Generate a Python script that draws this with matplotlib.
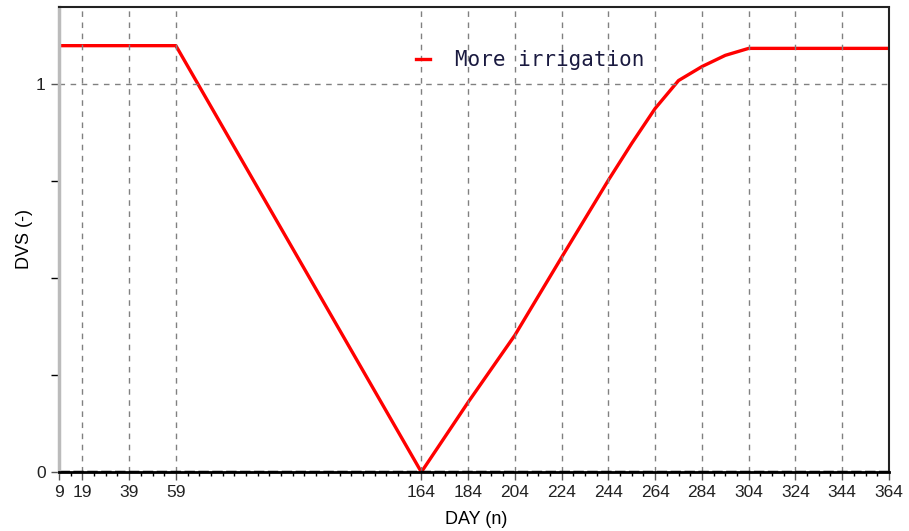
import matplotlib.pyplot as plt
from matplotlib.ticker import FixedLocator

# day of year vs DVS
day = [9, 59, 164, 184, 204, 224, 244, 254, 264, 274, 284, 294, 304, 364]
dvs = [1.1, 1.1, 0.0, 0.18, 0.353, 0.554, 0.753, 0.848, 0.938, 1.01, 1.046, 1.075, 1.093, 1.093]
xticks = [9, 19, 39, 59, 164, 184, 204, 224, 244, 264, 284, 304, 324, 344, 364]
yticks = [0, 1]

plt.rcParams['font.family'] = ['Liberation Sans', 'DejaVu Sans']

fig = plt.figure(figsize=(9.09, 5.31), dpi=100)
ax = fig.add_axes([0.0649, 0.111, 0.913, 0.876])

ax.plot(day, dvs, color='red', lw=2.4, label='More irrigation')

ax.set_xlim(9, 364)
ax.set_ylim(0, 1.2)
ax.set_xticks(xticks)
ax.set_xticklabels([str(t) for t in xticks])
ax.xaxis.set_minor_locator(FixedLocator([t for t in range(14, 364, 5) if t not in xticks]))
ax.set_yticks(yticks)
ax.yaxis.set_minor_locator(FixedLocator([0.25, 0.5, 0.75]))
ax.tick_params(axis='both', labelsize=12.5, colors='#555555', labelcolor='#222222')
ax.tick_params(axis='x', which='major', length=6, width=1)
ax.tick_params(axis='x', which='minor', length=3, width=1)
ax.tick_params(axis='y', which='both', length=6, width=1)

for x in xticks[1:-1]:
    ax.axvline(x, color='#808080', ls=(0, (4, 4)), lw=1)
ax.axhline(1, color='#808080', ls=(0, (4, 4)), lw=1)
ax.axhline(0, color='black', lw=2.5, ls=(0, (3, 1)))

ax.spines['left'].set_color('#bbbbbb')
ax.spines['left'].set_linewidth(2.5)
ax.spines['bottom'].set_color('black')
ax.spines['bottom'].set_linewidth(2)
ax.spines['top'].set_color('#222222')
ax.spines['top'].set_linewidth(1.5)
ax.spines['right'].set_color('#222222')
ax.spines['right'].set_linestyle((0, (3, 1)))
ax.spines['right'].set_linewidth(1.5)

ax.set_xlabel('DAY (n)', fontsize=13, labelpad=8, x=0.503)
ax.set_ylabel('DVS (-)', fontsize=13, labelpad=2)

leg = ax.legend(loc='upper left', bbox_to_anchor=(0.407, 0.947), frameon=False,
                handlelength=0.7, handletextpad=1.2,
                prop={'family': 'DejaVu Sans Mono', 'size': 15})
for t in leg.get_texts():
    t.set_color('#1a1a40')

plt.savefig('out.png', dpi=100)
